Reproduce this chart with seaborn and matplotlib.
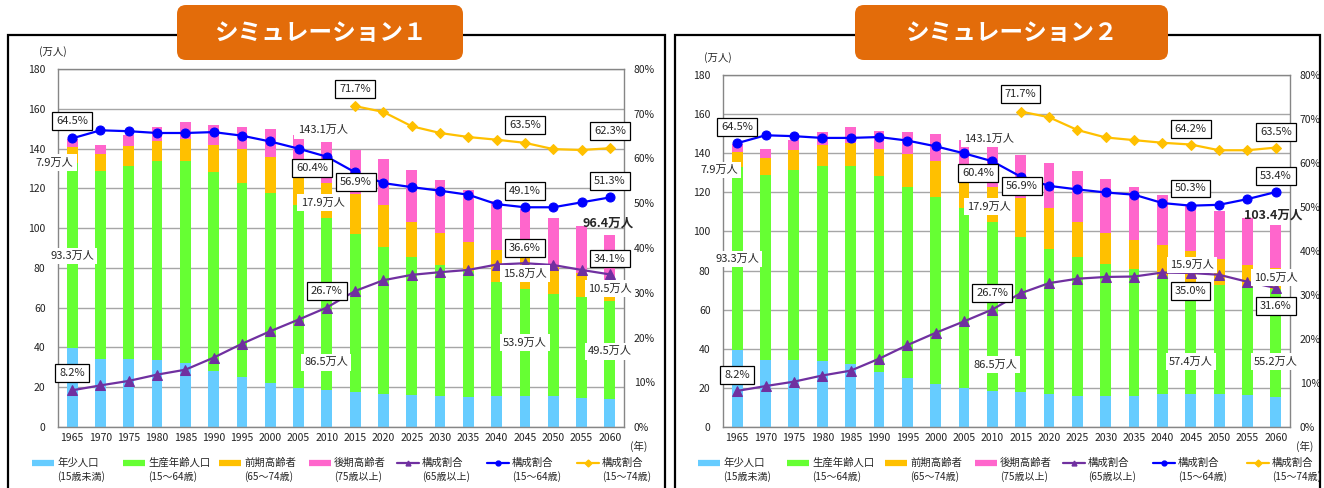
import numpy as np
import pandas as pd
import matplotlib
matplotlib.use("Agg")
import matplotlib.pyplot as plt
from matplotlib.patches import FancyBboxPatch, Rectangle
from matplotlib.lines import Line2D
import seaborn as sns

# ---- data (万人, %) ----
years = [1965, 1970, 1975, 1980, 1985, 1990, 1995, 2000, 2005, 2010,
         2015, 2020, 2025, 2030, 2035, 2040, 2045, 2050, 2055, 2060]

# シミュレーション1
sim1_youth = [39.6, 34.4, 34.4, 33.9, 32.4, 28.3, 25.0, 22.0, 19.8, 18.4,
              17.8, 16.8, 16.0, 15.5, 15.0, 15.5, 15.7, 15.5, 14.8, 14.0]
sim1_work = [93.3, 94.3, 97.0, 99.7, 101.2, 99.8, 97.9, 95.6, 92.0, 86.5,
             79.2, 73.6, 69.4, 66.0, 63.3, 57.2, 53.9, 51.6, 50.7, 49.5]
sim1_early = [7.9, 8.8, 10.1, 10.4, 11.4, 13.9, 16.9, 18.2, 17.9, 17.9,
              20.2, 21.2, 17.5, 15.9, 14.6, 16.5, 15.8, 13.7, 11.8, 10.5]
sim1_late = [4.0, 4.5, 5.2, 6.9, 8.4, 9.6, 11.1, 13.9, 17.0, 20.3,
             22.0, 22.9, 26.5, 26.7, 26.5, 24.6, 24.4, 24.3, 23.6, 22.4]
sim1_r65 = [8.2, 9.3, 10.3, 11.7, 12.8, 15.5, 18.6, 21.4, 24.0, 26.7,
            30.4, 32.8, 34.0, 34.6, 35.1, 36.3, 36.6, 36.2, 35.1, 34.1]
sim1_r1564 = [64.5, 66.3, 66.1, 65.7, 65.7, 65.9, 65.1, 63.8, 62.2, 60.4,
              56.9, 54.5, 53.6, 52.8, 51.9, 49.8, 49.1, 49.1, 50.2, 51.3]
sim1_r1574 = [71.7, 70.4, 67.2, 65.7, 64.8, 64.2, 63.5, 62.1, 61.9, 62.3]  # 2015-

# シミュレーション2
sim2_youth = [39.6, 34.4, 34.4, 33.9, 32.4, 28.3, 25.0, 22.0, 19.8, 18.4,
              17.8, 16.7, 16.1, 15.8, 15.8, 16.7, 16.8, 16.7, 16.3, 15.5]
sim2_work = [93.3, 94.3, 97.0, 99.7, 101.2, 99.8, 97.9, 95.6, 92.0, 86.5,
             79.2, 74.3, 70.8, 67.7, 64.8, 60.4, 57.4, 55.7, 55.3, 55.2]
sim2_early = [7.9, 8.8, 10.1, 10.4, 11.4, 13.9, 16.9, 18.2, 17.9, 17.9,
              20.2, 20.8, 17.7, 15.5, 15.0, 15.9, 15.9, 13.6, 11.4, 10.5]
sim2_late = [4.0, 4.5, 5.2, 6.9, 8.4, 9.6, 11.1, 13.9, 17.0, 20.3,
             22.0, 23.3, 26.4, 27.8, 27.3, 25.6, 24.0, 24.7, 23.8, 22.2]
sim2_r65 = [8.2, 9.3, 10.3, 11.7, 12.8, 15.5, 18.6, 21.4, 24.0, 26.7,
            30.4, 32.7, 33.7, 34.1, 34.2, 35.1, 35.0, 34.6, 33.0, 31.6]
sim2_r1564 = [64.5, 66.3, 66.1, 65.7, 65.7, 65.9, 65.1, 63.8, 62.2, 60.4,
              56.9, 54.8, 54.0, 53.3, 52.8, 50.9, 50.3, 50.5, 51.8, 53.4]
sim2_r1574 = [71.7, 70.4, 67.5, 65.8, 65.2, 64.6, 64.2, 62.9, 62.9, 63.5]  # 2015-

legend_labels = [("年少人口", "(15歳未満)"), ("生産年齢人口", "(15～64歳)"),
                 ("前期高齢者", "(65～74歳)"), ("後期高齢者", "(75歳以上)"),
                 ("構成割合", "(65歳以上)"), ("構成割合", "(15～64歳)"),
                 ("構成割合", "(15～74歳)")]

# annotations: (x index, left-axis value, text, style)
ann1 = [(0, 154, "64.5%", "box"), (-0.62, 133, "7.9万人", "plain"),
        (0, 86, "93.3万人", "plain"), (0, 27, "8.2%", "box"),
        (8.85, 149.2, "143.1万人", "plain"), (8.48, 130.3, "60.4%", "box"),
        (8.85, 112.7, "17.9万人", "plain"), (8.97, 32.6, "86.5万人", "plain"),
        (9.0, 68.3, "26.7%", "box"), (10.0, 170, "71.7%", "box"),
        (10.03, 123.3, "56.9%", "box"), (16, 151.7, "63.5%", "box"),
        (19, 148.7, "62.3%", "box"), (16, 118.6, "49.1%", "box"),
        (19, 123.6, "51.3%", "box"), (18.95, 102.7, "96.4万人", "bold"),
        (16, 90.1, "36.6%", "box"), (19, 84.7, "34.1%", "box"),
        (16, 77.0, "15.8万人", "plain"), (19, 69.5, "10.5万人", "plain"),
        (16, 42.3, "53.9万人", "plain"), (19, 38.1, "49.5万人", "plain")]
ann2 = [(0, 153.6, "64.5%", "box"), (-0.64, 131.4, "7.9万人", "plain"),
        (0, 85.9, "93.3万人", "plain"), (0, 26.5, "8.2%", "box"),
        (8.9, 147.3, "143.1万人", "plain"), (8.5, 129.7, "60.4%", "box"),
        (8.9, 112.6, "17.9万人", "plain"), (9.1, 32.0, "86.5万人", "plain"),
        (9.0, 68.4, "26.7%", "box"), (10.0, 170.1, "71.7%", "box"),
        (10.05, 123.2, "56.9%", "box"), (16, 152.4, "64.2%", "box"),
        (19, 151, "63.5%", "box"), (16, 122, "50.3%", "box"),
        (19, 128.5, "53.4%", "box"), (18.9, 108.4, "103.4万人", "bold"),
        (16.05, 82.8, "15.9万人", "plain"), (16, 69.5, "35.0%", "box"),
        (19, 76.5, "10.5万人", "plain"), (19, 61.8, "31.6%", "box"),
        (16, 33.4, "57.4万人", "plain"), (19, 33.4, "55.2万人", "plain")]

C_YOUTH = "#66CCFF"
C_WORK = "#66FF33"
C_EARLY = "#FFC000"
C_LATE = "#FF66CC"
C_R65 = "#7030A0"
C_R1564 = "#0000FF"
C_R1574 = "#FFC000"
C_TITLE = "#E36C0A"

sns.set_theme(style="white")
plt.rcParams["font.family"] = ["Noto Sans CJK JP", "DejaVu Sans"]

W, H = 1324, 488
fig = plt.figure(figsize=(W / 100, H / 100), dpi=100)
fig.patch.set_facecolor("white")


def px_axes(l, t, r, b):
    return fig.add_axes([l / W, 1 - b / H, (r - l) / W, (b - t) / H])


def inch(x, y):
    return x / 100, (H - y) / 100


def draw_panel(frame, title_box, plot_box, youth, work, early, late,
               r65, r1564, r1574, anns, legend_x, title):
    # outer frame
    fl, ft, fr = frame
    fig.patches.append(Rectangle(inch(fl, H + 10), (fr - fl) / 100, (H + 10 - ft) / 100,
                                 transform=fig.dpi_scale_trans, fill=False,
                                 ec="black", lw=1.6, clip_on=False, zorder=1))
    # title box
    tl, tt, tr, tb = title_box
    fig.patches.append(FancyBboxPatch(inch(tl, tb), (tr - tl) / 100, (tb - tt) / 100,
                                      boxstyle="round,pad=0,rounding_size=0.09",
                                      transform=fig.dpi_scale_trans, fc=C_TITLE,
                                      ec="none", zorder=5))
    fig.text((tl + tr) / 2 / W, 1 - (tt + tb) / 2 / H, title, color="white",
             fontsize=17, fontweight="bold", ha="center", va="center", zorder=6)

    ax = px_axes(*plot_box)
    x = np.arange(len(years))
    df = pd.DataFrame({"youth": youth, "work": work, "early": early, "late": late})
    bottom = np.zeros(len(years))
    for col, c in [("youth", C_YOUTH), ("work", C_WORK), ("early", C_EARLY), ("late", C_LATE)]:
        ax.bar(x, df[col], bottom=bottom, width=0.38, color=c, edgecolor="none", zorder=2)
        bottom = bottom + df[col].to_numpy()
    ax.set_xlim(-0.5, len(years) - 0.5)
    ax.set_ylim(0, 180)
    ax.set_yticks(range(0, 181, 20))
    ax.set_xticks(x)
    ax.set_xticklabels([str(y) for y in years])
    ax.set_axisbelow(True)
    ax.yaxis.grid(True, color="#A6A6A6", lw=1)
    ax.xaxis.grid(False)
    ax.tick_params(axis="y", length=0, pad=9, labelsize=7.5, colors="#222222")
    ax.tick_params(axis="x", length=0, pad=4, labelsize=7.5, colors="#222222")
    for s in ax.spines.values():
        s.set_color("#868686")
        s.set_linewidth(1)

    ax2 = ax.twinx()
    ax2.set_ylim(0, 80)
    ax2.set_yticks(range(0, 81, 10))
    ax2.set_yticklabels([f"{v}%" for v in range(0, 81, 10)])
    ax2.tick_params(axis="y", length=0, pad=7, labelsize=7.5, colors="#222222")
    ax2.grid(False)
    for s in ax2.spines.values():
        s.set_visible(False)

    sns.lineplot(x=x, y=r1564, ax=ax2, color=C_R1564, marker="o", markersize=6.5,
                 markeredgecolor=C_R1564, linewidth=1.6, legend=False)
    sns.lineplot(x=x[10:], y=r1574, ax=ax2, color=C_R1574, marker="D", markersize=5,
                 markeredgecolor=C_R1574, linewidth=1.6, legend=False)
    sns.lineplot(x=x, y=r65, ax=ax2, color=C_R65, marker="^", markersize=7,
                 markeredgecolor=C_R65, linewidth=1.6, legend=False)
    ax2.set_ylabel("")

    for xi, v, s, style in anns:
        if style == "box":
            ax2.text(xi, v, s, transform=ax.transData, ha="center", va="center",
                     fontsize=8, zorder=10,
                     bbox=dict(boxstyle="square,pad=0.35", fc="white", ec="black", lw=0.9))
        elif style == "bold":
            ax2.text(xi, v, s, transform=ax.transData, ha="center", va="center",
                     fontsize=9, fontweight="bold", zorder=10)
        else:
            ax2.text(xi, v, s, transform=ax.transData, ha="center", va="center",
                     fontsize=8, zorder=10,
                     bbox=dict(boxstyle="square,pad=0.3", fc="white", ec="none"))

    # unit labels
    pl, pt, pr, pb = plot_box
    fig.text((pl - 5) / W, 1 - (pt - 17) / H, "(万人)", fontsize=7.5, ha="center", va="center")
    fig.text((pr + 15) / W, 1 - (pb + 19) / H, "(年)", fontsize=7.5, ha="center", va="center")

    # legend
    handles = [("bar", C_YOUTH, None), ("bar", C_WORK, None), ("bar", C_EARLY, None),
               ("bar", C_LATE, None), ("line", C_R65, "^"), ("line", C_R1564, "o"),
               ("line", C_R1574, "D")]
    for lx, (kind, c, m), (l1, l2) in zip(legend_x, handles, legend_labels):
        y1 = 1 - 463 / H
        if kind == "bar":
            fig.add_artist(Line2D([lx / W, (lx + 22) / W], [y1, y1], color=c, lw=4.5,
                                  solid_capstyle="butt"))
        else:
            fig.add_artist(Line2D([lx / W, (lx + 22) / W], [y1, y1], color=c, lw=1.6))
            fig.add_artist(Line2D([(lx + 11) / W], [y1], color=c, marker=m, markersize=3.5))
        fig.text((lx + 25) / W, y1, l1, fontsize=7.5, ha="left", va="center")
        fig.text((lx + 25) / W, 1 - 477 / H, l2, fontsize=7.2, ha="left", va="center")


draw_panel((8, 35, 665), (177, 5, 463, 60), (58, 69, 624, 427),
           sim1_youth, sim1_work, sim1_early, sim1_late,
           sim1_r65, sim1_r1564, sim1_r1574, ann1,
           [32, 123, 219, 309, 397, 487, 577], "シミュレーション１")
draw_panel((675, 35, 1320), (855, 5, 1168, 60), (723, 75, 1290, 427),
           sim2_youth, sim2_work, sim2_early, sim2_late,
           sim2_r65, sim2_r1564, sim2_r1574, ann2,
           [698, 787, 885, 975, 1063, 1153, 1247], "シミュレーション２")

fig.savefig("out.png", dpi=100, facecolor="white")
